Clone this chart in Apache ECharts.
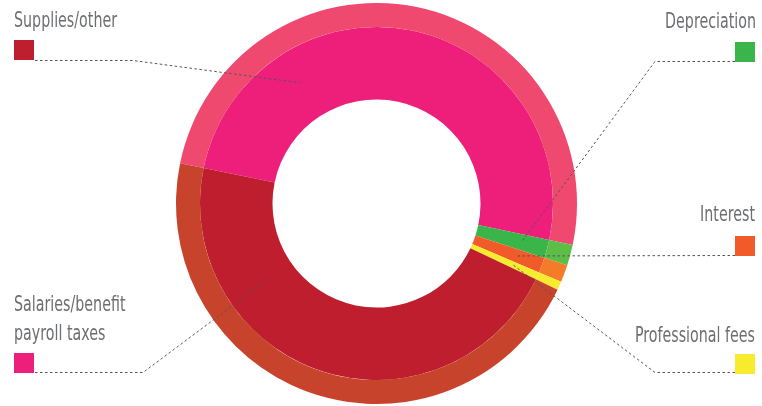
<!DOCTYPE html>
<html><head><meta charset="utf-8">
<script src="https://cdn.jsdelivr.net/npm/echarts@6/dist/echarts.min.js"></script>
<style>html,body{margin:0;padding:0;background:#fff}#c{width:762px;height:406px}</style>
</head><body><div id="c"></div>
<script>
// ---- data ----
const categories = ['Salaries/benefit payroll taxes', 'Depreciation', 'Interest', 'Professional fees', 'Supplies/other'];
const values = [50.1, 1.67, 1.39, 0.69, 46.15];
const innerColors = ['#ED1F7B', '#3AB54A', '#F15A29', '#F6EB2D', '#BE1E2D'];
const outerColors = ['#EF4970', '#5CBE47', '#F47B28', '#F6EB2D', '#C8432B'];
// legend-like captions (as printed in the source graphic)
const captions = ['Supplies/other', 'Salaries/benefit\npayroll taxes', 'Depreciation', 'Interest', 'Professional fees'];
const captionSwatch = ['#BE1E2D', '#ED1F7B', '#39B54A', '#F15A29', '#F6EB2D'];
// which slice each caption's leader line points into, and where inside it (fraction of slice)
const captionSlice = [0, 4, 1, 2, 3];
const captionFrac = [0.255, 0.72, 0.5, 0.5, 0.5];

// ---- layout ----
const CX = 376.5, CY = 203.5;
const R_IN = 104, R_MID = 176.5, R_OUT = 200.5;
const START = 168.4;
const anchorR = [143, 135, 150, 150, 150];
const textColor = '#6D6E71';
const font = "'Liberation Sans Narrow', 'DejaVu Sans Condensed', sans-serif";

const total = values.reduce((a, b) => a + b, 0);
function anchor(i) {
  const s = captionSlice[i];
  let cum = 0;
  for (let k = 0; k < s; k++) cum += values[k];
  const ang = (START - (cum + captionFrac[i] * values[s]) / total * 360) * Math.PI / 180;
  return [CX + anchorR[i] * Math.cos(ang), CY - anchorR[i] * Math.sin(ang)];
}

const data = categories.map((n, i) => ({ name: n, value: values[i] }));

const graphic = [];
const layout = [
  { tx: 14, ty: 21.5, align: 'left', sx: 14, sy: 40, pts: a => [[35, 60.5], [133, 60.5], a] },
  { tx: 14, ty: 305, align: 'left', sx: 14, sy: 353, pts: a => [[35, 372.5], [143, 372.5], a] },
  { tx: 756, ty: 22.5, align: 'right', sx: 735, sy: 42, pts: a => [[735, 61.5], [655, 61.5], a] },
  { tx: 755, ty: 215, align: 'right', sx: 735, sy: 236, pts: a => [[735, 255.5], a] },
  { tx: 755, ty: 336, align: 'right', sx: 735, sy: 354, pts: a => [[735, 372.5], [655, 372.5], a] }
];
layout.forEach((L, i) => {
  const lines = captions[i].split('\n');
  lines.forEach((t, j) => {
    graphic.push({
      type: 'text', x: L.tx, y: L.ty + j * 29.5, scaleX: 0.72, z: 100,
      style: { text: t, fill: textColor, font: '22px ' + font, align: L.align, verticalAlign: 'middle' }
    });
  });
  graphic.push({ type: 'rect', z: 100, shape: { x: L.sx, y: L.sy, width: 20, height: 20 }, style: { fill: captionSwatch[i] } });
  graphic.push({
    type: 'polyline', z: 100, shape: { points: L.pts(anchor(i)) },
    style: { stroke: '#555', lineWidth: 1, lineDash: [2.5, 2.5], fill: null }
  });
});

const chart = echarts.init(document.getElementById('c'), null, { renderer: 'canvas' });
chart.setOption({
  animation: false,
  series: [
    {
      type: 'pie', center: [CX, CY], radius: [R_IN, R_MID], startAngle: START, clockwise: true,
      label: { show: false }, labelLine: { show: false }, silent: true,
      data: data.map((d, i) => ({ ...d, itemStyle: { color: innerColors[i] } }))
    },
    {
      type: 'pie', center: [CX, CY], radius: [R_MID, R_OUT], startAngle: START, clockwise: true,
      label: { show: false }, labelLine: { show: false }, silent: true,
      data: data.map((d, i) => ({ ...d, itemStyle: { color: outerColors[i] } }))
    }
  ],
  graphic: graphic
});
</script></body></html>
